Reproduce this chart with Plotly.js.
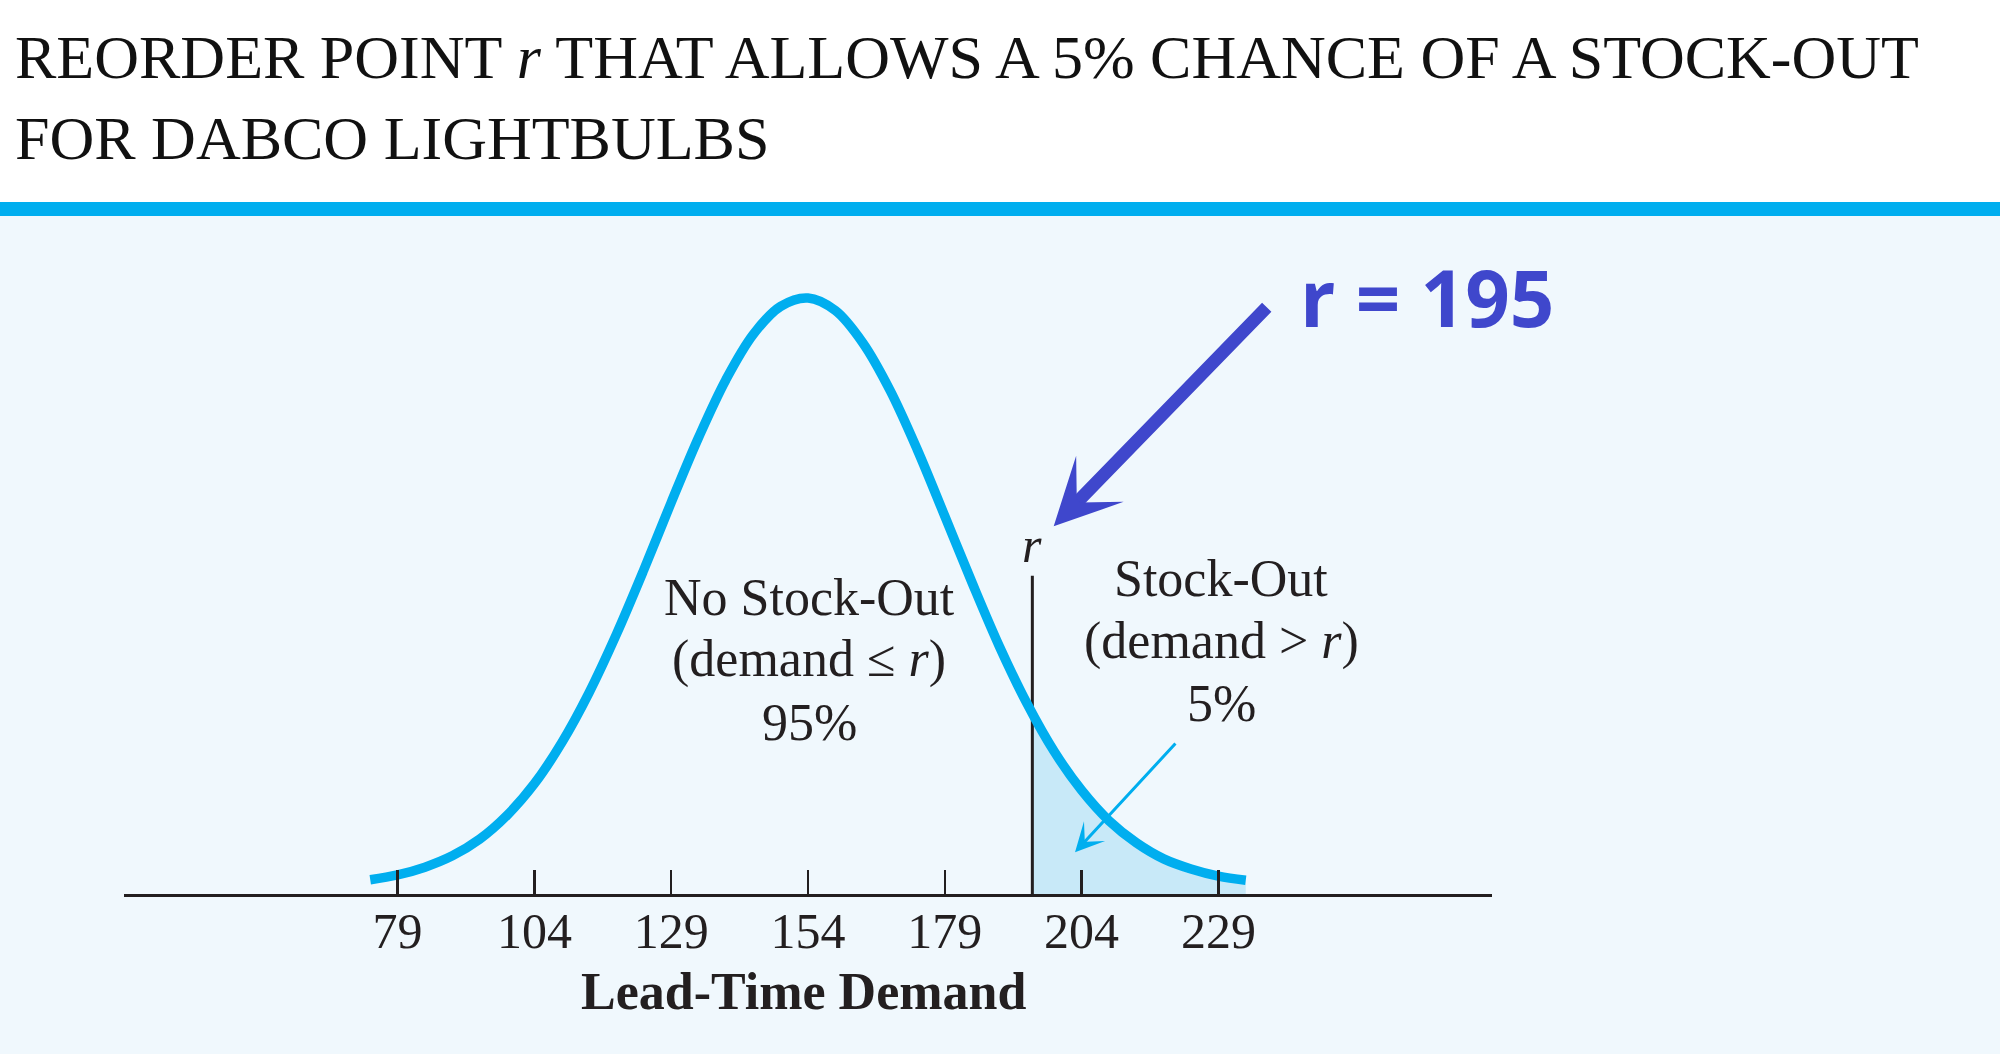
<!DOCTYPE html>
<html>
<head>
<meta charset="utf-8">
<script src="https://cdn.plot.ly/plotly-3.0.1.min.js"></script>
<style>html,body{margin:0;padding:0;background:#fff;}#chart{width:2000px;height:1054px;}</style>
</head>
<body>
<div id="chart"></div>
<script>
// Lead-time demand values (x) and curve height (peak = 100)
const demand = [74, 79, 84, 89, 94, 99, 104, 109, 114, 119, 124, 129, 134, 139, 144, 149, 154,
                159, 164, 169, 174, 179, 184, 189, 194, 199, 204, 209, 214, 219, 224, 229, 234];
const curveHeight = [2.4, 3.2, 4.5, 6.4, 9.2, 13.2, 18.5, 25.4, 33.8, 43.6, 54.4, 65.7, 76.6, 86.3, 93.9, 98.6, 100.0,
                     97.9, 92.5, 84.5, 74.5, 63.4, 52.2, 41.5, 32.0, 23.9, 17.4, 12.3, 8.6, 5.9, 4.2, 3.0, 2.3];
// Stock-out tail (demand > r)
const tailDemand = [195, 199, 204, 209, 214, 219, 224, 229, 234];
const tailHeight = [30.3, 23.9, 17.4, 12.3, 8.6, 5.9, 4.2, 3.0, 2.3];
// Reorder point
const reorderPoint = 195;
const reorderLineTop = 53.4;
// Axis ticks
const tickValues = [79, 104, 129, 154, 179, 204, 229];
const tickLabels = ['79', '104', '129', '154', '179', '204', '229'];

const serif = 'Liberation Serif, Times New Roman, serif';
const ink = '#231F20';
const cyan = '#00AEEF';
const violet = '#3F47CC';

const traces = [
  {
    x: tailDemand, y: tailHeight, type: 'scatter', mode: 'lines',
    line: {width: 0, shape: 'spline', smoothing: 1, color: 'rgba(0,0,0,0)'},
    fill: 'tozeroy', fillcolor: '#C8E9F8', hoverinfo: 'skip', showlegend: false
  },
  {
    x: [reorderPoint, reorderPoint], y: [0, reorderLineTop], type: 'scatter', mode: 'lines',
    line: {width: 3, color: ink}, hoverinfo: 'skip', showlegend: false
  },
  {
    x: demand, y: curveHeight, type: 'scatter', mode: 'lines',
    line: {width: 9.5, color: cyan, shape: 'spline', smoothing: 1},
    hoverinfo: 'skip', showlegend: false
  }
];

const PH = 1054 - 217 - 160;
const yTop = PH / 5.96;

function lbl(text, x, y, size, extra) {
  return Object.assign({
    text: text, x: x, y: y, xref: 'x', yref: 'y', showarrow: false,
    xanchor: 'center', yanchor: 'middle',
    font: {family: serif, size: size, color: ink}
  }, extra || {});
}

const layout = {
  width: 2000, height: 1054,
  margin: {l: 124, r: 508, t: 217, b: 160, pad: 0},
  paper_bgcolor: '#F0F8FD',
  plot_bgcolor: 'rgba(0,0,0,0)',
  showlegend: false,
  title: {
    text: 'REORDER POINT <i>r</i> THAT ALLOWS A 5% CHANCE OF A STOCK-OUT<br>FOR DABCO LIGHTBULBS',
    xref: 'container', yref: 'container', x: 15 / 2000, xanchor: 'left',
    y: 1 - 78 / 1054, yanchor: 'top',
    font: {family: serif, size: 62, color: '#111111'}
  },
  xaxis: {
    range: [29, 279], showgrid: false, zeroline: false,
    showline: true, linecolor: ink, linewidth: 3,
    ticks: 'inside', ticklen: 24, tickwidth: 2.5, tickcolor: ink,
    tickvals: tickValues, ticktext: tickLabels,
    tickfont: {family: serif, size: 50, color: ink},
    ticklabelstandoff: -9,
    fixedrange: true
  },
  yaxis: {range: [0, yTop], visible: false, fixedrange: true},
  shapes: [
    {type: 'rect', xref: 'paper', yref: 'paper', x0: -124 / 1368, x1: 1876 / 1368,
     y0: (894 - 202) / PH, y1: 894 / PH + 0.05, fillcolor: '#FFFFFF', line: {width: 0}, layer: 'below'},
    {type: 'rect', xref: 'paper', yref: 'paper', x0: -124 / 1368, x1: 1876 / 1368,
     y0: (894 - 216) / PH, y1: (894 - 202) / PH, fillcolor: cyan, line: {width: 0}, layer: 'below'}
  ],
  annotations: [
    lbl('No Stock-Out', 154.2, 49.7, 52),
    lbl('(demand ≤ <i>r</i>)', 154.2, 39.4, 52),
    lbl('95%', 154.2, 28.7, 52),
    lbl('Stock-Out', 229.5, 52.9, 52),
    lbl('(demand > <i>r</i>)', 229.5, 42.4, 52),
    lbl('5%', 229.5, 31.9, 52),
    lbl('<i>r</i>', reorderPoint, 58.6, 50),
    {
      text: '<b>Lead-Time Demand</b>', xref: 'x', yref: 'paper', x: 153.2, y: (894 - 992) / PH,
      showarrow: false, xanchor: 'center', yanchor: 'middle',
      font: {family: serif, size: 52, color: ink}
    },
    {
      text: '<b>r = 195</b>', xref: 'x', yref: 'y', x: 267.1, y: 100.2,
      showarrow: false, xanchor: 'center', yanchor: 'middle',
      font: {family: 'Open Sans, sans-serif', size: 78, color: violet}
    },
    {
      text: '', xref: 'x', yref: 'y', x: 198.9, y: 61.7,
      axref: 'x', ayref: 'y', ax: 238.1, ay: 98.7,
      showarrow: true, arrowhead: 3, arrowwidth: 13, arrowsize: 0.85, arrowcolor: violet, standoff: 0
    },
    {
      text: '', xref: 'x', yref: 'y', x: 202.8, y: 7.0,
      axref: 'x', ayref: 'y', ax: 221.4, ay: 25.5,
      showarrow: true, arrowhead: 3, arrowwidth: 3, arrowsize: 1.6, arrowcolor: cyan, standoff: 0
    }
  ]
};

Plotly.newPlot('chart', traces, layout, {displayModeBar: false, staticPlot: true});
</script>
</body>
</html>
